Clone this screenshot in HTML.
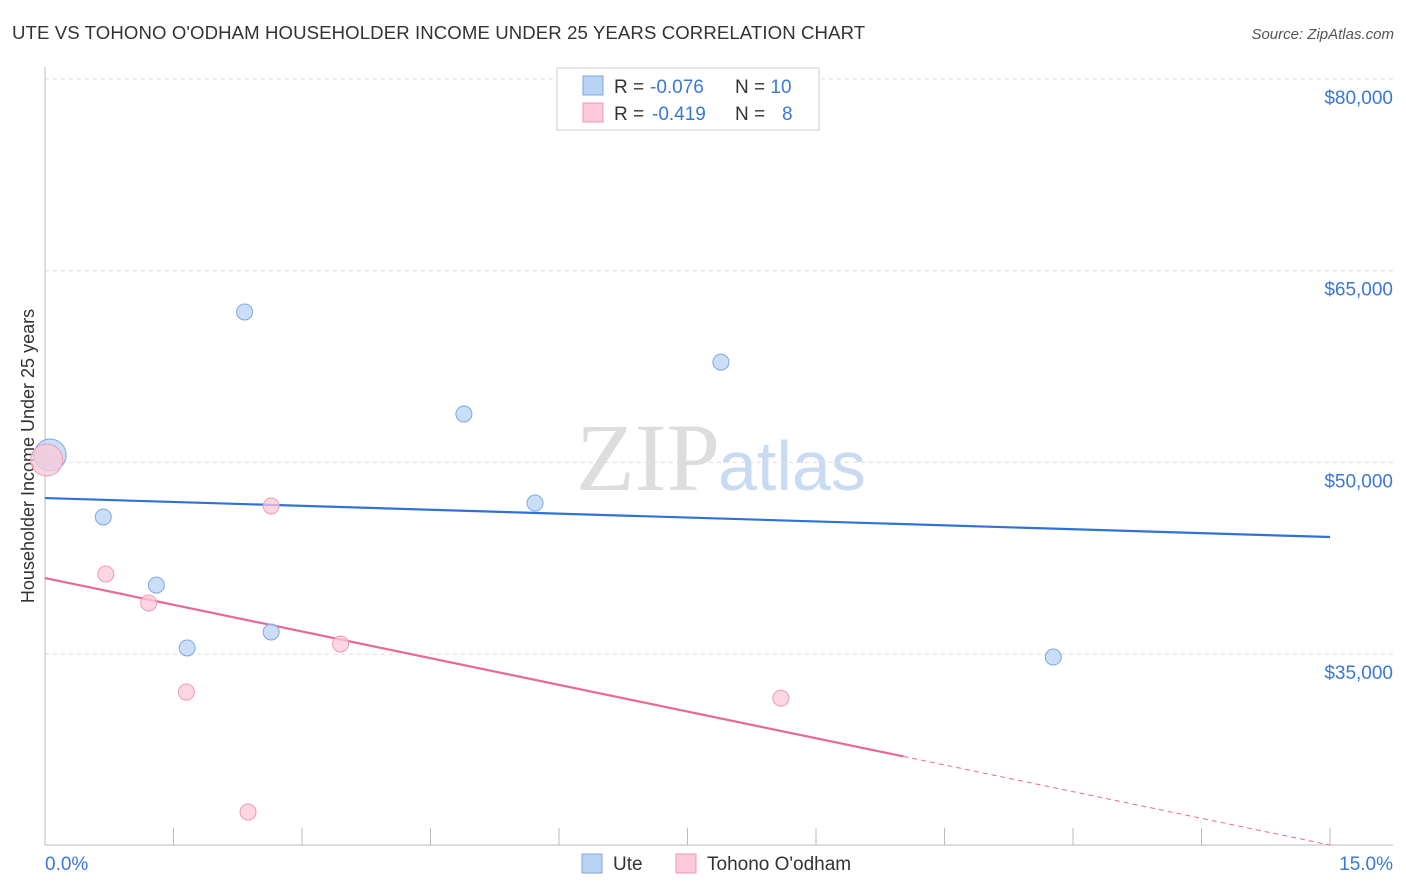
<!DOCTYPE html>
<html><head><meta charset="utf-8"><style>
body{margin:0;background:#fff;font-family:"Liberation Sans",sans-serif;}
#wrap{position:relative;width:1406px;height:892px;overflow:hidden;}
</style></head><body>
<div id="wrap">
<svg id="svg" width="1406" height="892" xmlns="http://www.w3.org/2000/svg">
<text x="12" y="39" font-size="18.6" letter-spacing="0.1" fill="#333">UTE VS TOHONO O'ODHAM HOUSEHOLDER INCOME UNDER 25 YEARS CORRELATION CHART</text>
<text x="1394" y="39" font-size="15" fill="#555" font-style="italic" text-anchor="end">Source: ZipAtlas.com</text>
<text x="720" y="490" font-size="96" fill="#ddd" text-anchor="end" font-family="Liberation Serif,serif">ZIP</text>
<text x="718" y="490" font-size="70" fill="#c9dbf3">atlas</text>
<text transform="translate(34,456) rotate(-90)" font-size="18" fill="#333" text-anchor="middle">Householder Income Under 25 years</text>
<g id="grid"></g><g id="axes"></g><g id="lines"></g><g id="pts"></g>
<g>
<rect x="557" y="68" width="262" height="62" fill="#fff" stroke="#ccc"/>
<rect x="583" y="76" width="20" height="19" fill="#b9d3f5" stroke="#7ea6e0"/>
<rect x="583" y="103" width="20" height="19" fill="#fbc9d7" stroke="#ee9ab4"/>
<text x="614" y="93" font-size="19" fill="#333">R = <tspan fill="#3a78d8" x="650">-0.076</tspan><tspan x="735">N = </tspan><tspan fill="#3a78d8">10</tspan></text>
<text x="614" y="120" font-size="19" fill="#333">R = <tspan fill="#3a78d8" x="652">-0.419</tspan><tspan x="735">N = </tspan><tspan fill="#3a78d8" x="782">8</tspan></text>
</g>
<g>
<rect x="582" y="854" width="20" height="19" fill="#b9d3f5" stroke="#7ea6e0"/>
<text x="613" y="870" font-size="19" fill="#333">Ute</text>
<rect x="676" y="854" width="20" height="19" fill="#fbc9d7" stroke="#ee9ab4"/>
<text x="707" y="870" font-size="19" fill="#333">Tohono O'odham</text>
</g>
</svg></div>
<script>
const uteX=[0.06,0.68,1.30,1.66,2.33,2.64,4.89,5.72,7.89,11.77];
const uteY=[50580,45730,40400,35480,61770,36730,53790,46820,57850,34770];
const tohX=[0.02,0.71,1.21,1.65,2.37,2.64,3.45,8.59];
const tohY=[50190,41270,39000,32030,22640,46590,35790,31560];
const yTicks=[80000,65000,50000,35000];
const yTickLabels=["$80,000","$65,000","$50,000","$35,000"];
const uteTrend=[47210,44160];
const tohTrend=[40950,20060];
const tohSolidEnd=10.02;
const NS="http://www.w3.org/2000/svg";
const sx=v=>45+v/15*1285;
const sy=v=>79+(80000-v)/15000*191.7;
function mk(tag,attrs,parent){const e=document.createElementNS(NS,tag);for(const k in attrs)e.setAttribute(k,attrs[k]);document.getElementById(parent).appendChild(e);return e;}
yTicks.forEach((t,i)=>{
 const g=mk('line',{x1:45,x2:1393,y1:sy(t),y2:sy(t),stroke:'#ddd','stroke-dasharray':'4,4'},'grid');
 
 
 const l=mk('text',{x:1393,y:sy(t)+25,'font-size':19,fill:'#3a78d8','text-anchor':'end'},'grid');
 l.textContent=yTickLabels[i];
 
 
});
const ax=mk('line',{x1:45,x2:1393,y1:845,y2:845,stroke:'#bbb'},'axes');


const ay=mk('line',{x1:45,x2:45,y1:67,y2:845,stroke:'#bbb'},'axes');


for(let i=0;i<=10;i++){
 const t=mk('line',{x1:sx(i*1.5),x2:sx(i*1.5),y1:828,y2:845,stroke:'#bbb'},'axes');
 
 
}
const x0=mk('text',{x:45,y:870,'font-size':19,fill:'#3a78d8'},'axes');x0.textContent='0.0%';


const x1=mk('text',{x:1393,y:870,'font-size':19,fill:'#3a78d8','text-anchor':'end'},'axes');x1.textContent='15.0%';


const bl=mk('line',{x1:sx(0),y1:sy(uteTrend[0]),x2:sx(15),y2:sy(uteTrend[1]),stroke:'#2f72d6','stroke-width':2.2},'lines');


const tv=x=>tohTrend[0]+(tohTrend[1]-tohTrend[0])*x/15;
const pl=mk('line',{x1:sx(0),y1:sy(tohTrend[0]),x2:sx(tohSolidEnd),y2:sy(tv(tohSolidEnd)),stroke:'#e8689a','stroke-width':2.2},'lines');


const pd=mk('line',{x1:sx(tohSolidEnd),y1:sy(tv(tohSolidEnd)),x2:sx(15),y2:sy(tohTrend[1]),stroke:'#e8689a','stroke-width':1,'stroke-dasharray':'5,4'},'lines');


uteX.forEach((x,i)=>{
 const c=mk('circle',{cx:sx(x),cy:sy(uteY[i]),r:i==0?16:8,fill:'#b9d3f5','fill-opacity':0.75,stroke:'#7ea6e0'},'pts');
 
 
});
tohX.forEach((x,i)=>{
 const c=mk('circle',{cx:sx(x),cy:sy(tohY[i]),r:i==0?16:8,fill:'#fbc9d7','fill-opacity':0.75,stroke:'#ee9ab4'},'pts');
 
 
});
</script>
</body></html>
